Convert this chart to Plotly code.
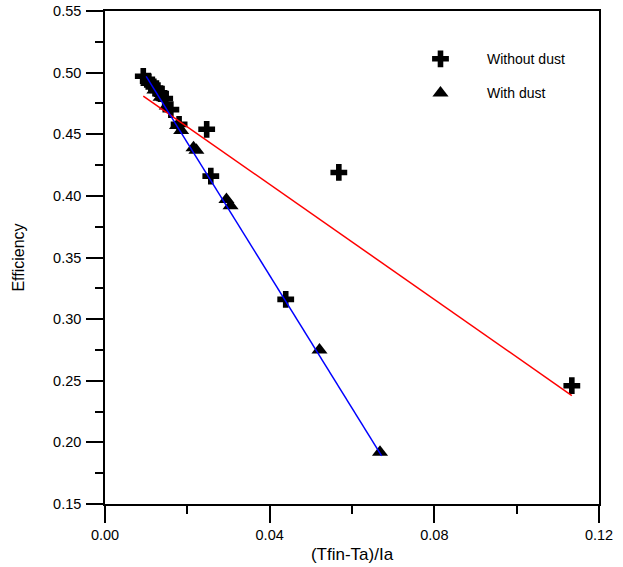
import plotly.graph_objects as go

# Without dust (+)
x_without = [0.0093, 0.0105, 0.0115, 0.0125, 0.0135, 0.0145, 0.0160, 0.0180,
             0.0247, 0.0257, 0.0568, 0.0439, 0.1134]
y_without = [0.497, 0.493, 0.490, 0.487, 0.483, 0.479, 0.470, 0.458,
             0.454, 0.416, 0.419, 0.316, 0.246]

# With dust (triangles)
x_with = [0.0105, 0.0120, 0.0135, 0.0150, 0.0175, 0.0185, 0.0215, 0.0222,
          0.0295, 0.0305, 0.0521, 0.0668]
y_with = [0.492, 0.486, 0.480, 0.473, 0.457, 0.453, 0.439, 0.437,
          0.397, 0.392, 0.275, 0.192]

# Fitted lines (endpoints)
fit_x_without = [0.0093, 0.1134]
fit_y_without = [0.481, 0.238]
fit_x_with = [0.0100, 0.0672]
fit_y_with = [0.497, 0.189]

x_ticks = [0.00, 0.04, 0.08, 0.12]
y_ticks = [0.15, 0.20, 0.25, 0.30, 0.35, 0.40, 0.45, 0.50, 0.55]

FONT = "Liberation Sans, Arial, sans-serif"

fig = go.Figure()
fig.add_trace(go.Scatter(
    x=x_without, y=y_without, mode="markers", name="Without dust",
    legendgroup="a",
    marker=dict(symbol="cross", size=14, color="black", line=dict(width=0)),
))
fig.add_trace(go.Scatter(
    x=x_with, y=y_with, mode="markers", name="With dust",
    legendgroup="b",
    marker=dict(symbol="triangle-up", size=14, color="black", line=dict(width=0)),
))
fig.add_trace(go.Scatter(
    x=fit_x_without, y=fit_y_without, mode="lines", showlegend=False,
    line=dict(color="red", width=1.5),
))
fig.add_trace(go.Scatter(
    x=fit_x_with, y=fit_y_with, mode="lines", showlegend=False,
    line=dict(color="blue", width=1.5),
))

axis_common = dict(
    showgrid=False, zeroline=False, showline=True, linecolor="black",
    linewidth=1.5, mirror=True, ticks="outside", ticklen=17, tickwidth=1.5,
    tickcolor="black", tickfont=dict(family=FONT, size=14.5, color="black"),
    automargin=False,
)

fig.update_xaxes(
    range=[0, 0.12], tickvals=x_ticks, ticktext=[f"{v:.2f}" for v in x_ticks],
    minor=dict(ticks="outside", ticklen=8, tickwidth=1.5, tickcolor="black", dtick=0.02),
    title=dict(text="(Tfin-Ta)/Ia", font=dict(family=FONT, size=17, color="black"), standoff=6),
    ticklabelstandoff=0,
    **axis_common,
)
fig.update_yaxes(
    range=[0.15, 0.55], tickvals=y_ticks, ticktext=[f"{v:.2f}" for v in y_ticks],
    minor=dict(ticks="outside", ticklen=8, tickwidth=1.5, tickcolor="black", dtick=0.025),
    title=dict(text="Efficiency", font=dict(family=FONT, size=16, color="black"), standoff=25),
    ticklabelstandoff=2,
    **axis_common,
)

fig.update_layout(
    width=623, height=567, autosize=False,
    margin=dict(l=105, r=24, t=11, b=62.5),
    paper_bgcolor="white", plot_bgcolor="white",
    font=dict(family=FONT, size=14, color="black"),
    showlegend=True,
    legend=dict(
        x=0.585, xanchor="left", y=0.9347, yanchor="top",
        bgcolor="rgba(0,0,0,0)", borderwidth=0,
        traceorder="grouped", tracegroupgap=13,
        itemwidth=83,
        font=dict(family=FONT, size=14, color="black"),
    ),
)

# Remove the default page margin so the figure sits at the window's corner.
fig.write_html(
    "out.html",
    config={"displayModeBar": False},
    post_script="document.body.style.margin='0';",
)
